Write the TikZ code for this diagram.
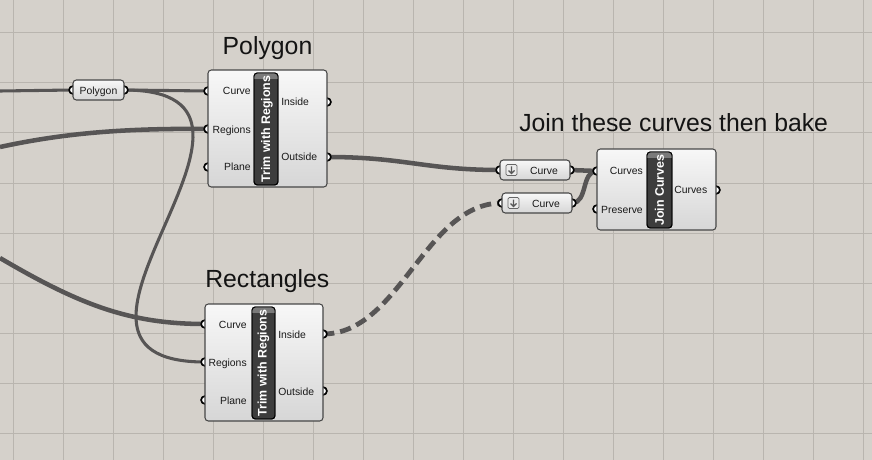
\documentclass[tikz,border=0pt]{standalone}
\usepackage{fontspec}
\setmainfont{Liberation Sans}
\definecolor{bgc}{HTML}{D5D1CB}
\definecolor{gridc}{HTML}{B9B5AF}
\definecolor{wirec}{HTML}{575555}
\begin{document}
\begin{tikzpicture}[x=0.75pt,y=-0.75pt,
  gridline/.style={draw=gridc, line width=0.75pt},
  wire/.style={draw=wirec, line width=3.4pt},
  thinwire/.style={draw=wirec, line width=2.3pt},
  dashwire/.style={draw=wirec, line width=3.6pt, dash pattern=on 8.5pt off 4.5pt},
  port/.style={circle, fill=white, draw=black, line width=1.2pt, minimum size=5.5pt, inner sep=0pt},
  compbox/.style={draw=black!72, line width=0.8pt, rounded corners=2.5pt, top color=white!97!black, bottom color=black!16},
  stripbox/.style={fill=black!76, draw=black, line width=0.7pt, rounded corners=2.5pt},
  lbl/.style={font=\fontsize{7.8}{9}\selectfont, text=black!90, inner sep=0pt},
  striplbl/.style={font=\bfseries\fontsize{9.3}{10}\selectfont, text=white, rotate=90, inner sep=0pt},
  title/.style={font=\fontsize{18.6}{22}\selectfont, inner sep=0pt, text=black!92}]
% background and grid
\fill[bgc] (0,0) rectangle (872,460);
\useasboundingbox (0,0) rectangle (872,460);
\foreach \gx in {13,63,...,863} \draw[gridline] (\gx,0) -- (\gx,460);
\foreach \gy in {33,83,...,433} \draw[gridline] (0,\gy) -- (872,\gy);
% free wire ends
\coordinate (wa) at (0,91);
\coordinate (wb) at (0,147);
\coordinate (wc) at (0,258);
% ports
\node[port] (ppin)  at (73,90) {};
\node[port] (ppout) at (124,90) {};
\node[port] (pcur)  at (208,91) {};
\node[port] (preg)  at (208,129) {};
\node[port] (ppla)  at (208,167) {};
\node[port] (pins)  at (327,102) {};
\node[port] (pout)  at (327,157) {};
\node[port] (rcur)  at (205,324) {};
\node[port] (rreg)  at (205,362) {};
\node[port] (rpla)  at (205,400) {};
\node[port] (rins)  at (323,334) {};
\node[port] (rout)  at (323,391) {};
\node[port] (c1in)  at (500,170) {};
\node[port] (c1out) at (570,170) {};
\node[port] (c2in)  at (502,203) {};
\node[port] (c2out) at (572,203) {};
\node[port] (jcur)  at (597,171) {};
\node[port] (jpre)  at (597,209) {};
\node[port] (jout)  at (716,190) {};
% wires
\draw[thinwire] (wa) -- (ppin.center);
\draw[thinwire] (ppout.center) -- (pcur.center);
\draw[thinwire] (ppout.center) .. controls +(200,0) and +(-200,0) .. (rreg.center);
\draw[wire] (wb) .. controls (60,134) and (120,128) .. (preg.center);
\draw[wire] (wc) .. controls (80,305) and (130,324) .. (rcur.center);
\draw[wire] (pout.center) .. controls (405,157) and (425,170) .. (c1in.center);
\draw[dashwire] (rins.center) .. controls (400,334) and (425,203) .. (c2in.center);
\draw[wire] (c1out.center) -- (jcur.center);
\draw[wire] (c2out.center) .. controls +(16,0) and +(-16,0) .. (jcur.center);
% redraw ports above wires
\foreach \p in {ppin,ppout,pcur,preg,ppla,pins,pout,rcur,rreg,rpla,rins,rout,c1in,c1out,c2in,c2out,jcur,jpre,jout}
  \draw[fill=white, draw=black, line width=1.2pt] (\p.center) circle[radius=2.9pt];
% Polygon parameter
\path[compbox] (73,80) rectangle (124,100);
\node[lbl, anchor=base] (plabel) at (98.5,94.2) {Polygon};
% Curve parameters
\path[compbox] (500,160) rectangle (570,180);
\draw[fill=black!8, draw=black!60, line width=0.6pt, rounded corners=1pt] (506,164.5) rectangle (517,175.5);
\draw[black!65, line width=0.9pt] (511.5,166.5) -- (511.5,173.5) (508.5,170.5) -- (511.5,173.5) -- (514.5,170.5);
\node[lbl, anchor=base] (c1label) at (544,174.2) {Curve};
\path[compbox] (502,193) rectangle (572,213);
\draw[fill=black!8, draw=black!60, line width=0.6pt, rounded corners=1pt] (508,197.5) rectangle (519,208.5);
\draw[black!65, line width=0.9pt] (513.5,199.5) -- (513.5,206.5) (510.5,203.5) -- (513.5,206.5) -- (516.5,203.5);
\node[lbl, anchor=base] (c2label) at (546,207.2) {Curve};
% Polygon component
\path[compbox] (208,70) rectangle (327,187);
\path[stripbox] (254,73) rectangle (278,185);
\begin{scope}
\clip[rounded corners=2.5pt] (254,73) rectangle (278,185);
\fill[black!52] (254,73) rectangle (278,79);
\end{scope}
\draw[black, line width=0.7pt, rounded corners=2.5pt] (254,73) rectangle (278,185);
\node[striplbl] (pstrip) at (267,129) {Trim with Regions};
\node[lbl, anchor=base east] at (251,95) {Curve};
\node[lbl, anchor=base east] at (251,133) {Regions};
\node[lbl, anchor=base east] at (251,171) {Plane};
\node[lbl, anchor=base west] at (281,106) {Inside};
\node[lbl, anchor=base west] at (281,161) {Outside};
\node[title, anchor=base] (tpoly) at (267.5,55) {Polygon};
% Rectangles component
\path[compbox] (205,304) rectangle (323,421);
\path[stripbox] (252,307) rectangle (275,419);
\begin{scope}
\clip[rounded corners=2.5pt] (252,307) rectangle (275,419);
\fill[black!52] (252,307) rectangle (275,313);
\end{scope}
\draw[black, line width=0.7pt, rounded corners=2.5pt] (252,307) rectangle (275,419);
\node[striplbl] (rstrip) at (263.5,363) {Trim with Regions};
\node[lbl, anchor=base east] at (247,328) {Curve};
\node[lbl, anchor=base east] at (247,366) {Regions};
\node[lbl, anchor=base east] at (247,404) {Plane};
\node[lbl, anchor=base west] at (278,338) {Inside};
\node[lbl, anchor=base west] at (278,395) {Outside};
\node[title, anchor=base west] (trect) at (205,287) {Rectangles};
% Join Curves component
\path[compbox] (597,149) rectangle (716,230);
\path[stripbox] (647,152) rectangle (672,228);
\begin{scope}
\clip[rounded corners=2.5pt] (647,152) rectangle (672,228);
\fill[black!52] (647,152) rectangle (672,158);
\end{scope}
\draw[black, line width=0.7pt, rounded corners=2.5pt] (647,152) rectangle (672,228);
\node[striplbl] (jstrip) at (659.5,190) {Join Curves};
\node[lbl, anchor=base east] at (643,175) {Curves};
\node[lbl, anchor=base east] at (643,213) {Preserve};
\node[lbl, anchor=base west] at (674,194) {Curves};
\node[title, anchor=base west] (tjoin) at (519,132) {Join these curves then bake};
\end{tikzpicture}
\end{document}
